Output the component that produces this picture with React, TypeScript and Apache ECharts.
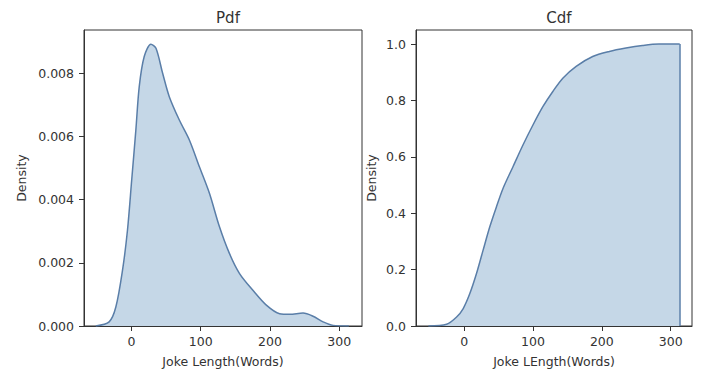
import React, { useEffect, useRef } from "react";
import * as echarts from "echarts";

const pdfX = [-51.6, -32.3, -22.6, -13, -5.8, 0.3, 6.3, 11.2, 18.4, 28.1, 35.4, 45, 54.6, 69.1, 83.6, 98.1, 112.6, 127.1, 141.6, 156.1, 175.4, 194.8, 214, 228.6, 247.8, 262.3, 276.8, 291.3, 314];
const pdfY = [0, 0.00013, 0.0006, 0.00176, 0.00303, 0.00462, 0.0062, 0.00758, 0.00853, 0.00892, 0.00879, 0.008, 0.00726, 0.00652, 0.00589, 0.00504, 0.0042, 0.00314, 0.00229, 0.00166, 0.00113, 0.00066, 0.00039, 0.00037, 0.00041, 0.00031, 0.00013, 0.00002, 0];

const cdfX = [-52, -25.5, -11, -1.4, 8.2, 17.9, 27.5, 37.2, 46.9, 56.4, 70.9, 85.4, 99.9, 114.3, 128.8, 143.3, 162.7, 186.7, 210.9, 235, 259, 283, 313.2];
const cdfY = [0, 0.006, 0.032, 0.062, 0.115, 0.186, 0.269, 0.352, 0.423, 0.488, 0.565, 0.642, 0.713, 0.778, 0.832, 0.879, 0.921, 0.956, 0.974, 0.986, 0.995, 1.0, 1.0];

const xTicks = [0, 100, 200, 300];
const pdfTicks = [0, 0.002, 0.004, 0.006, 0.008];
const cdfTicks = [0, 0.2, 0.4, 0.6, 0.8, 1.0];

const titles = ["Pdf", "Cdf"];
const xNames = ["Joke Length(Words)", "Joke LEngth(Words)"];
const yName = "Density";

const LINE = "#5a7ea8";
const FILL = "#c5d7e7";
const TEXT = "#333333";
const FONT = "DejaVu Sans";

export default function App() {
  const ref = useRef<HTMLDivElement>(null);
  useEffect(() => {
    if (!ref.current) return;
    const chart = echarts.init(ref.current, undefined, { renderer: "svg" });
    const axisCommon = {
      axisLine: { show: true, onZero: false, lineStyle: { color: TEXT, width: 1 } },
      splitLine: { show: false },
    };
    const xAxis = (gi: number, name: string, min: number, max: number) => ({
      ...axisCommon,
      type: "value",
      gridIndex: gi,
      min,
      max,
      name,
      nameLocation: "middle",
      nameGap: 29,
      nameTextStyle: { color: TEXT, fontFamily: FONT, fontSize: 12.5 },
      axisTick: { show: true, inside: false, length: 5, customValues: xTicks, lineStyle: { color: TEXT } },
      axisLabel: { customValues: xTicks, color: TEXT, fontFamily: FONT, fontSize: 12.5, margin: 9 },
    });
    const yAxis = (gi: number, max: number, ticks: number[], dec: number, gap: number) => ({
      ...axisCommon,
      type: "value",
      gridIndex: gi,
      min: 0,
      max,
      name: yName,
      nameLocation: "middle",
      nameGap: gap,
      nameTextStyle: { color: TEXT, fontFamily: FONT, fontSize: 12.5 },
      axisTick: { show: true, inside: false, length: 5, customValues: ticks, lineStyle: { color: TEXT } },
      axisLabel: {
        customValues: ticks,
        color: TEXT,
        fontFamily: FONT,
        fontSize: 12.5,
        margin: 10,
        formatter: (v: number) => v.toFixed(dec),
      },
    });
    const option = {
      animation: false,
      backgroundColor: "#ffffff",
      title: [
        { text: titles[0], left: 223, top: 5, textAlign: "center", textStyle: { color: TEXT, fontFamily: FONT, fontSize: 15, fontWeight: "normal" } },
        { text: titles[1], left: 554, top: 5, textAlign: "center", textStyle: { color: TEXT, fontFamily: FONT, fontSize: 15, fontWeight: "normal" } },
      ],
      grid: [
        { left: 84, top: 30, width: 278, height: 296, show: true, borderColor: TEXT, borderWidth: 1, backgroundColor: "transparent" },
        { left: 416, top: 30, width: 276, height: 296, show: true, borderColor: TEXT, borderWidth: 1, backgroundColor: "transparent" },
      ],
      xAxis: [xAxis(0, xNames[0], -68.6, 333), xAxis(1, xNames[1], -70, 331)],
      yAxis: [yAxis(0, 0.00937, pdfTicks, 3, 56), yAxis(1, 1.05, cdfTicks, 1, 38)],
      series: [
        {
          type: "line",
          xAxisIndex: 0,
          yAxisIndex: 0,
          data: pdfX.map((x, i) => [x, pdfY[i]]),
          smooth: 0.3,
          symbol: "none",
          lineStyle: { color: LINE, width: 1.5 },
          areaStyle: { color: FILL, opacity: 1 },
        },
        {
          type: "line",
          xAxisIndex: 1,
          yAxisIndex: 1,
          data: cdfX.map((x, i) => [x, cdfY[i]]),
          smooth: 0.3,
          symbol: "none",
          lineStyle: { color: LINE, width: 1.5 },
          areaStyle: { color: FILL, opacity: 1 },
          markLine: {
            silent: true,
            symbol: "none",
            label: { show: false },
            lineStyle: { color: LINE, width: 1.5, type: "solid" },
            data: [[{ coord: [cdfX[cdfX.length - 1], 0] }, { coord: [cdfX[cdfX.length - 1], cdfY[cdfY.length - 1]] }]],
          },
        },
      ],
    };
    chart.setOption(option as any);
    return () => chart.dispose();
  }, []);
  return <div ref={ref} style={{ position: "fixed", left: 0, top: 0, width: 720, height: 383 }} />;
}
